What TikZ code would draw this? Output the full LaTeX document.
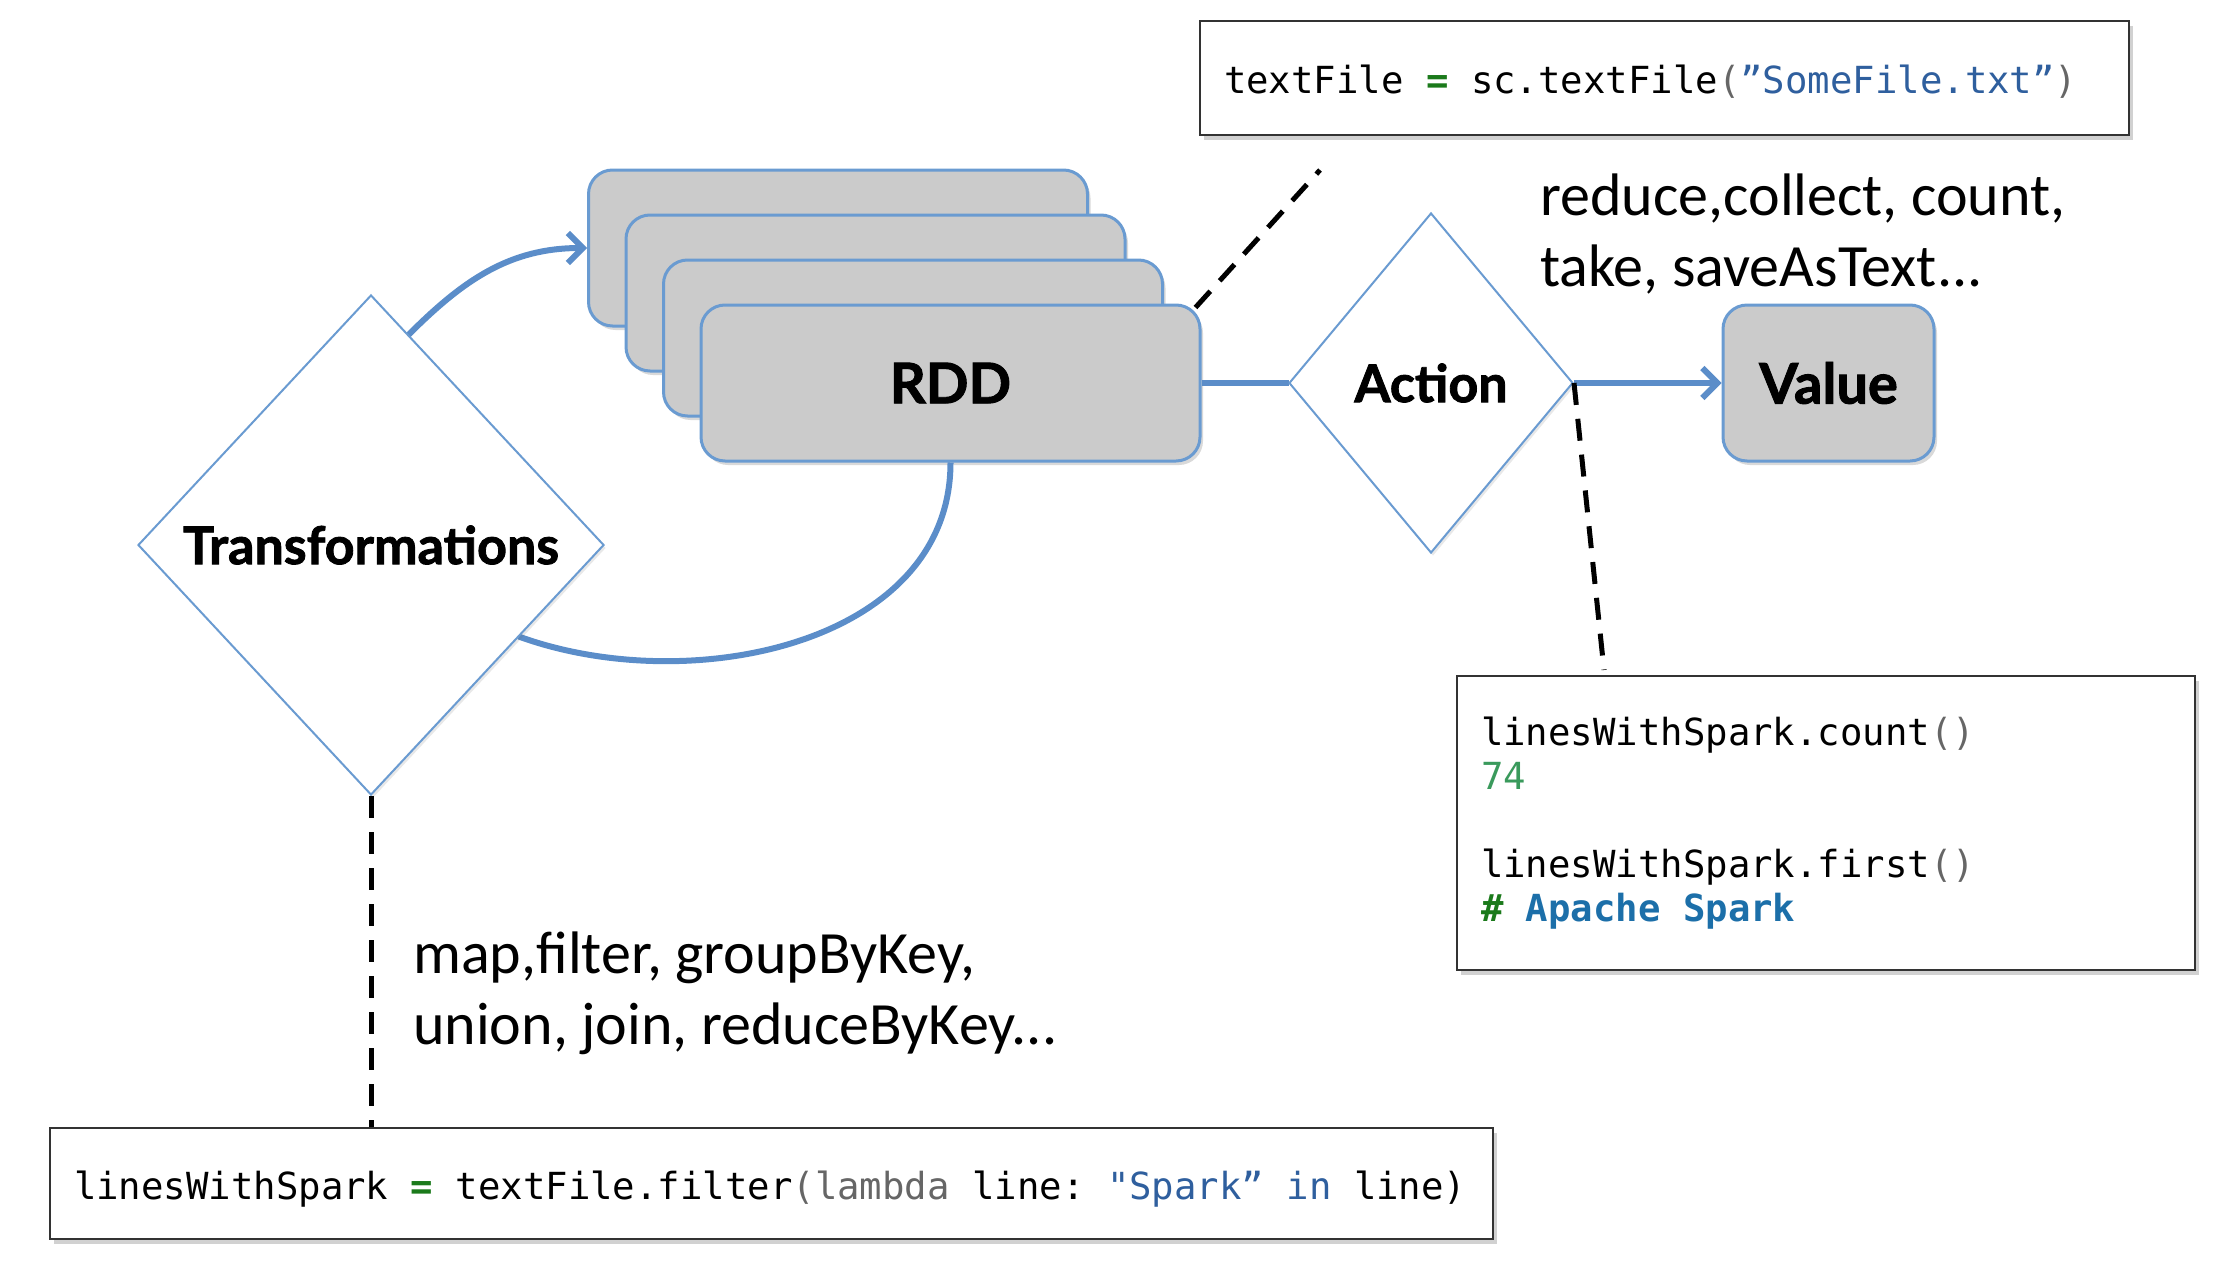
\documentclass[tikz,border=0pt]{standalone}
\usepackage{fontspec}
\setmainfont{Carlito}
\newfontfamily\lblfont{Lato}[BoldFeatures={FakeBold=1.6}]
\newfontfamily\codefont{DejaVu Sans Mono}
\usetikzlibrary{shapes.geometric,arrows.meta,shadows,calc}
\definecolor{edgeblue}{HTML}{6A9BD1}
\definecolor{linkblue}{HTML}{5B8DC9}
\definecolor{boxgrey}{HTML}{CBCBCB}
\definecolor{codegreen}{HTML}{1B7A1B}
\definecolor{strblue}{HTML}{2F5F9E}
\definecolor{numgreen}{HTML}{3A9A5C}
\definecolor{cmtblue}{HTML}{1C6FA9}
\definecolor{parengrey}{HTML}{666666}
\newcommand\csp{\hbox to 0.6021em{\hss}}
\newcommand\lowered[1]{\raisebox{-7pt}[\height][\depth]{#1}}
\begin{document}
\begin{tikzpicture}[x=1pt,y=1pt,
  rddbox/.style={draw=edgeblue,line width=3pt,fill=boxgrey,rounded corners=24pt,
    minimum width=499pt,minimum height=156pt,inner sep=0pt,
    drop shadow={shadow xshift=3pt,shadow yshift=-4pt,opacity=0.25,fill=black!60},
    font=\lblfont\bfseries\fontsize{56}{60}\selectfont},
  decision/.style={diamond,draw=edgeblue,line width=2pt,fill=white,inner sep=0pt,
    drop shadow={shadow xshift=2pt,shadow yshift=-3pt,opacity=0.15,fill=black!60},
    font=\lblfont\bfseries\fontsize{52}{60}\selectfont},
  codebox/.style={draw=black!80,line width=2.5pt,fill=white,inner ysep=0pt,inner xsep=24pt,
    drop shadow={shadow xshift=4pt,shadow yshift=-5pt,opacity=0.3,fill=black!60},
    font=\codefont\fontsize{37.3}{44}\selectfont,align=left},
  listtext/.style={font=\fontsize{60}{71}\selectfont,align=left,anchor=west,inner sep=0pt},
  link/.style={draw=linkblue,line width=6pt},
  tip/.style={-{Straight Barb[length=15pt,width=30pt]}},
  dashline/.style={draw=black,line width=5pt,dash pattern=on 22pt off 14pt}
]
\useasboundingbox (0,0) rectangle (2226,-1266);

% RDD stack
\node[rddbox] (b1) at (838,-248) {};
\node[rddbox] (b2) at (875.5,-293) {};
\node[rddbox] (b3) at (913,-338) {};
\node[rddbox] (front) at (950.5,-383) {RDD};
\node[rddbox,minimum width=211pt] (value) at (1828.5,-383) {Value};

% connectors under the diamonds
\draw[link,tip] ($(371,-295)!0.16!(604,-545)$) coordinate (tstart) to[out=45,in=180] (b1.west);
\draw[link] (front.south) to[out=-90,in=-20] ($(604,-545)!0.366!(371,-795)$) coordinate (tend);
\draw[link] (front.east) -- (1289,-383) coordinate (actleft);

% diamonds
\node[decision,minimum width=284pt,minimum height=340pt] (act) at (1431,-383) {Action};
\node[decision,minimum width=466pt,minimum height=500pt] (trans) at (371,-545) {Transformations};

\draw[link,tip] (act.east) -- (value.west);

% code boxes
\node[codebox,text width=881pt,minimum height=114pt] (codetop) at (1664.5,-78)
  {\lowered{\strut textFile\csp{\color{codegreen}\bfseries=}\csp sc.textFile{\color{parengrey}(}{\color{strblue}”SomeFile.txt”}{\color{parengrey})}}};
\node[codebox,text width=690pt,minimum height=294pt] (coderight) at (1826,-823)
  {linesWithSpark.count{\color{parengrey}()}\\
   {\color{numgreen}74}\\[44pt]
   linesWithSpark.first{\color{parengrey}()}\\
   {\color{codegreen}\bfseries\#}\csp{\color{cmtblue}\bfseries Apache\csp Spark}};
\node[codebox,text width=1395pt,minimum height=111pt] (codebot) at (771.5,-1183.5)
  {\lowered{\strut linesWithSpark\csp{\color{codegreen}\bfseries=}\csp textFile.filter{\color{parengrey}(lambda}\csp line:\csp{\color{strblue}"Spark”}\csp{\color{strblue}in}\csp line)}};

% dashed callouts
\coordinate (noteA) at (1320,-170);
\coordinate (noteB) at (1604,-670);
\draw[dashline] ($(front.north east)+(-6,-4)$) -- (noteA);
\draw[dashline] (act.east) -- (noteB);
\draw[dashline] (trans.south) -- (trans.south |- codebot.north);

% lists
\node[listtext] (actlist) at (1540,-234) {reduce,collect, count,\\take, saveAsText...};
\node[listtext] (trlist) at (413,-993) {map,filter, groupByKey,\\union, join, reduceByKey...};
\end{tikzpicture}
\end{document}
